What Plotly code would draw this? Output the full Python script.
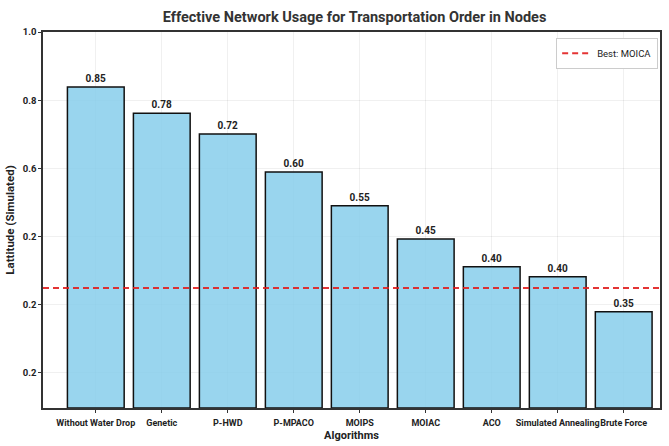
import plotly.graph_objects as go

algorithms = ["Without Water Drop", "Genetic", "P-HWD", "P-MPACO", "MOIPS",
              "MOIAC", "ACO", "Simulated Annealing", "Brute Force"]
bar_tops = [0.839, 0.762, 0.701, 0.589, 0.490, 0.393, 0.311, 0.282, 0.179]
bar_labels = ["0.85", "0.78", "0.72", "0.60", "0.55", "0.45", "0.40", "0.40", "0.35"]
best_value = 0.249
best_name = "Best: MOICA"
y_tick_vals = [0.0, 0.2, 0.4, 0.6, 0.8, 1.0]
y_tick_text = ["0.2", "0.2", "0.2", "0.6", "0.8", "1.0"]

AXIS_MIN = -0.103
FONT = "Roboto"

fig = go.Figure()
fig.add_trace(go.Bar(
    x=list(range(len(algorithms))),
    y=[t - AXIS_MIN for t in bar_tops],
    base=AXIS_MIN,
    text=bar_labels,
    textposition="outside",
    textfont=dict(family=FONT, size=10, color="#222222", weight="bold"),
    cliponaxis=False,
    marker=dict(color="rgba(135,206,235,0.85)", line=dict(color="#111111", width=1.5)),
    width=0.86,
    showlegend=False,
))
fig.add_hline(y=best_value, line=dict(color="rgba(225,30,30,0.9)", width=2, dash="6px,4px"),
              showlegend=True, name=best_name)

fig.update_layout(
    width=669, height=446,
    margin=dict(l=43, r=9, t=32, b=38, autoexpand=False),
    paper_bgcolor="white", plot_bgcolor="white",
    font=dict(family=FONT, color="#222222"),
    title=dict(text="<b>Effective Network Usage for Transportation Order in Nodes</b>",
               x=0.53, xanchor="center", y=0.962, yanchor="middle",
               font=dict(size=14.5, color="#333333")),
    showlegend=True,
    legend=dict(x=0.997, y=0.985, xanchor="right", yanchor="top",
                bgcolor="white", bordercolor="#cccccc", borderwidth=1,
                itemwidth=30,
                font=dict(size=9.5, color="#222222")),
)
fig.update_xaxes(
    tickmode="array", tickvals=list(range(len(algorithms))), ticktext=algorithms,
    range=[-0.8, 8.55], tickangle=0, automargin=False,
    tickfont=dict(size=9, color="#222222", weight="bold"),
    ticks="outside", ticklen=3, tickcolor="#333333", ticklabelstandoff=2,
    showline=True, linecolor="#333333", linewidth=1.5, mirror=True,
    showgrid=True, gridcolor="rgba(0,0,0,0.06)",
    title=dict(text="<b>Algorithms</b>", font=dict(size=11, color="#222222"), standoff=5),
)
fig.update_yaxes(
    tickmode="array", tickvals=y_tick_vals, ticktext=y_tick_text,
    range=[AXIS_MIN, 1.0], automargin=False,
    tickfont=dict(size=9.5, color="#222222", weight="bold"),
    ticks="outside", ticklen=3, tickcolor="#333333",
    showline=True, linecolor="#333333", linewidth=1.5, mirror=True,
    showgrid=True, gridcolor="rgba(0,0,0,0.06)", zeroline=False,
    title=dict(text="<b>Lattitude (Simulated)</b>", font=dict(size=11.5, color="#222222"), standoff=6),
)

fig.write_html("out.html")
